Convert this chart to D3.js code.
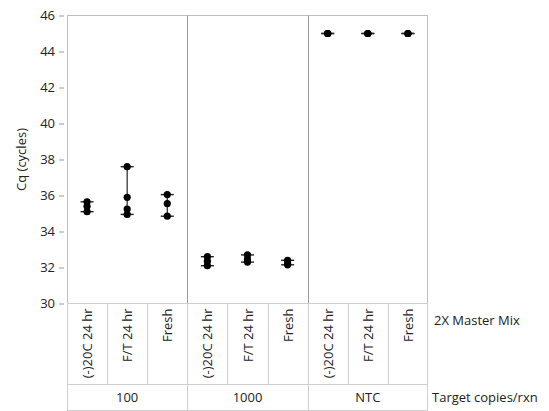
<!DOCTYPE html>
<html>
<head>
<meta charset="utf-8">
<script src="https://cdn.jsdelivr.net/npm/d3@7"></script>
<style>
  html, body { margin: 0; padding: 0; background: #fff; }
  svg { display: block; font-family: "Open Sans", "Noto Sans", sans-serif; }
</style>
</head>
<body>
<svg id="chart" width="549" height="411"></svg>
<script>
// Target copies per reaction (outer grouping) and master-mix condition (inner grouping)
const groups = ["100", "1000", "NTC"];
const conditions = ["(-)20C 24 hr", "F/T 24 hr", "Fresh"];
const yTicks = [30, 32, 34, 36, 38, 40, 42, 44, 46];

// Cq replicates per group, in condition order
const cq100 = [[35.65, 35.4, 35.1], [37.6, 35.9, 35.25, 34.95], [36.05, 35.55, 34.85]];
const cq1000 = [[32.6, 32.35, 32.1], [32.7, 32.45, 32.3], [32.4, 32.25, 32.15]];
const cqNTC = [[45, 45, 45], [45, 45, 45], [45, 45, 45]];

const series = [cq100, cq1000, cqNTC];

const svg = d3.select("#chart");
const plotL = 67, plotR = 428, plotT = 15.5, plotB = 303.5;
const row1 = 384.5, row2 = 410.5;

const y = d3.scaleLinear().domain([30, 46]).range([plotB, plotT]);
const xOuter = d3.scaleBand().domain(groups).range([plotL, plotR]);
const xInner = d3.scaleBand().domain(conditions).range([0, xOuter.bandwidth()]);

// Y axis
const yAxis = d3.axisLeft(y).tickValues(yTicks).tickSize(5).tickPadding(4);
const ya = svg.append("g").attr("transform", `translate(${plotL - 3},0)`).call(yAxis);
ya.select(".domain").remove();
ya.selectAll(".tick line").attr("stroke", "#999");
ya.selectAll(".tick text").attr("fill", "#222").style("font-size", "13px")
  .style("font-family", "'Open Sans', sans-serif");

svg.append("text")
  .attr("transform", `translate(26,${(plotT + plotB) / 2}) rotate(-90)`)
  .attr("text-anchor", "middle")
  .attr("fill", "#222")
  .style("font-size", "13px")
  .text("Cq (cycles)");

// Plot frame and panel dividers
svg.append("rect")
  .attr("x", plotL + 0.5).attr("y", plotT).attr("width", plotR - plotL - 1).attr("height", plotB - plotT)
  .attr("fill", "none").attr("stroke", "#bdbdbd");
groups.slice(1).forEach(g => {
  const gx = Math.round(xOuter(g)) + 0.5;
  svg.append("line").attr("x1", gx).attr("x2", gx).attr("y1", plotT).attr("y2", plotB)
    .attr("stroke", "#9a9a9a");
});

// Category table under the plot
const table = svg.append("g").attr("stroke", "#cfcfcf").attr("fill", "none");
[plotB, row1, row2].forEach(yy => {
  table.append("line").attr("x1", plotL).attr("x2", plotR).attr("y1", yy).attr("y2", yy);
});
groups.forEach(g => {
  const gx0 = xOuter(g);
  conditions.forEach((c, i) => {
    if (i > 0) {
      const cx = Math.round(gx0 + xInner(c)) + 0.5;
      table.append("line").attr("x1", cx).attr("x2", cx).attr("y1", plotB).attr("y2", row1);
    }
  });
});
[plotL, ...groups.slice(1).map(g => xOuter(g)), plotR].forEach(v => {
  const vx = Math.round(v) + 0.5 - (v === plotR ? 1 : 0);
  table.append("line").attr("x1", vx).attr("x2", vx).attr("y1", plotB).attr("y2", row2);
});

// Condition labels (rotated) and group labels
groups.forEach(g => {
  conditions.forEach(c => {
    const cx = xOuter(g) + xInner(c) + xInner.bandwidth() / 2;
    svg.append("text")
      .attr("transform", `translate(${cx + 5},${plotB + 5}) rotate(-90)`)
      .attr("text-anchor", "end")
      .attr("fill", "#222")
      .style("font-size", "13px")
      .text(c);
  });
  svg.append("text")
    .attr("x", xOuter(g) + xOuter.bandwidth() / 2)
    .attr("y", (row1 + row2) / 2 + 4.5)
    .attr("text-anchor", "middle")
    .attr("fill", "#222")
    .style("font-size", "13px")
    .text(g);
});

svg.append("text").attr("x", 434).attr("y", 325).attr("fill", "#222")
  .style("font-size", "13px").text("2X Master Mix");
svg.append("text").attr("x", 432).attr("y", 402).attr("fill", "#222")
  .style("font-size", "13px").text("Target copies/rxn");

// Range bars with caps and replicate points
const capHalf = 6.5;
const marks = svg.append("g");
groups.forEach((g, gi) => {
  conditions.forEach((c, ci) => {
    const vals = series[gi][ci];
    const cx = xOuter(g) + xInner(c) + xInner.bandwidth() / 2;
    const [lo, hi] = d3.extent(vals);
    marks.append("line")
      .attr("x1", cx).attr("x2", cx).attr("y1", y(lo)).attr("y2", y(hi))
      .attr("stroke", "#222").attr("stroke-width", 1.2);
    [lo, hi].forEach(v => {
      marks.append("line")
        .attr("x1", cx - capHalf).attr("x2", cx + capHalf).attr("y1", y(v)).attr("y2", y(v))
        .attr("stroke", "#222").attr("stroke-width", 1.4);
    });
    marks.selectAll(null).data(vals).enter().append("circle")
      .attr("cx", cx).attr("cy", d => y(d)).attr("r", 3.6)
      .attr("fill", "#000");
  });
});
</script>
</body>
</html>
